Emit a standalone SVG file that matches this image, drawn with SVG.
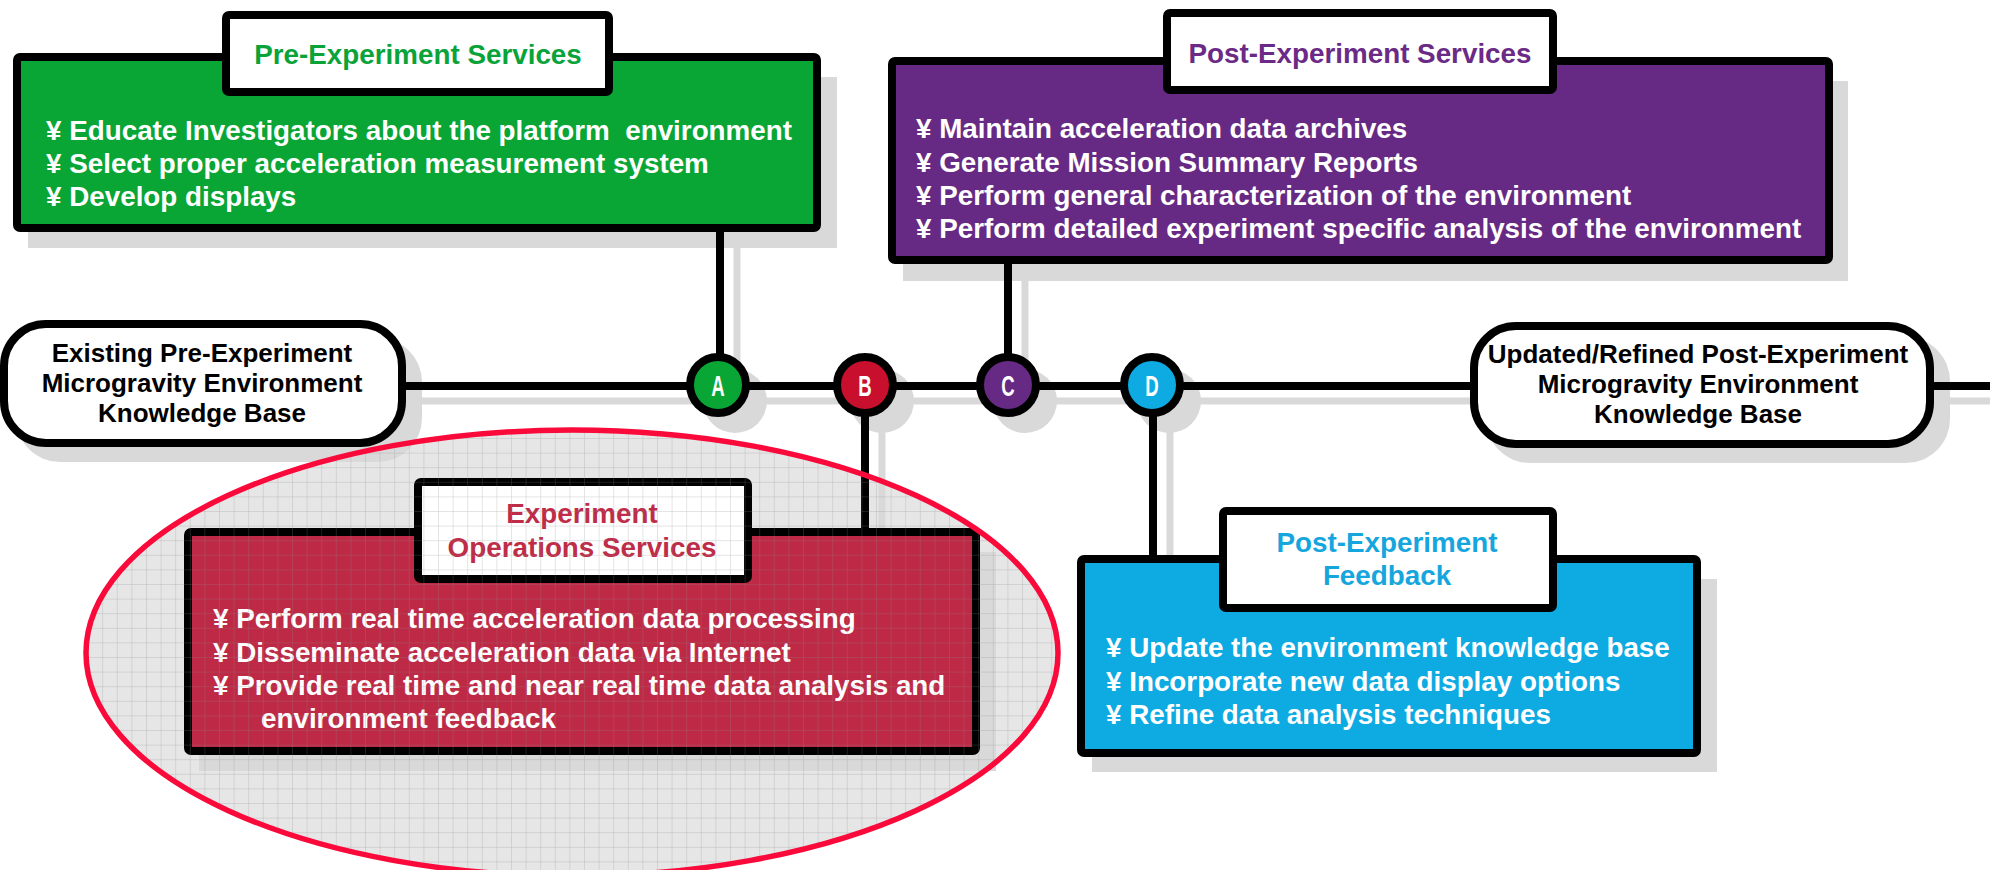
<svg xmlns="http://www.w3.org/2000/svg" width="1990" height="870" viewBox="0 0 1990 870">
  <style>
    text { font-family: "Liberation Sans", Arial, sans-serif; font-weight: bold; }
    .frame { stroke: #000; stroke-width: 8; stroke-linejoin: round; }
    .title { fill: #fff; stroke: #000; stroke-width: 8; stroke-linejoin: round; }
    .shadow { fill: #d9d9d9; }
    .sline { stroke: #d9d9d9; stroke-width: 7; fill: none; }
    .wire { stroke: #000; stroke-width: 8; fill: none; }
    .knode { fill: #fff; stroke: #000; stroke-width: 8; }
    .klabel { font-size: 26px; fill: #000; text-anchor: middle; }
    .head { font-size: 27.8px; text-anchor: middle; }
    .item { font-size: 27.8px; fill: #fff; white-space: pre; }
    .dot { stroke: #000; stroke-width: 8; }
    .letter { font-size: 30px; fill: #fff; text-anchor: middle; }
  </style>
  <defs>
    <pattern id="grid" width="14.6" height="14.6" patternUnits="userSpaceOnUse">
      <path d="M 14.6 0 L 0 0 0 14.6" fill="none" stroke="#8a8a8a" stroke-opacity="0.45" stroke-width="1"/>
    </pattern>
    <clipPath id="focus">
      <ellipse cx="572" cy="653" rx="486" ry="223"/>
    </clipPath>
  </defs>

  <rect width="1990" height="870" fill="#fff"/>

  <!-- highlighted area background -->
  <ellipse cx="572" cy="653" rx="486" ry="223" fill="#e6e6e6"/>

  <!-- drop shadows -->
  <g id="shadows">
    <rect class="shadow" x="28" y="77" width="809" height="171"/>
    <rect class="shadow" x="903" y="81" width="945" height="200"/>
    <rect class="shadow" x="199" y="552" width="797" height="219"/>
    <rect class="shadow" x="1092" y="579" width="625" height="193"/>
    <rect class="shadow" x="16" y="338" width="406" height="124" rx="44"/>
    <rect class="shadow" x="1486" y="337" width="464" height="126" rx="44"/>
    <path class="sline" d="M 422 401 H 1486 M 1950 401 H 1990 M 737 248 V 370 M 882 430 V 552 M 1025 281 V 370 M 1170 430 V 579"/>
    <circle class="shadow" cx="735" cy="401" r="32"/>
    <circle class="shadow" cx="882" cy="401" r="32"/>
    <circle class="shadow" cx="1025" cy="401" r="32"/>
    <circle class="shadow" cx="1169" cy="401" r="32"/>
  </g>

  <!-- connectors -->
  <g id="connectors">
    <path class="wire" d="M 406 386 H 1470"/>
    <path class="wire" d="M 1934 386 H 1990"/>
    <path class="wire" d="M 720 230 V 360"/>
    <path class="wire" d="M 865 410 V 532"/>
    <path class="wire" d="M 1008 262 V 360"/>
    <path class="wire" d="M 1153 410 V 559"/>
  </g>

  <!-- knowledge base nodes -->
  <g id="kb-existing">
    <rect class="knode" x="4" y="324" width="398" height="119" rx="42"/>
    <text class="klabel" x="202" y="362">Existing Pre-Experiment</text>
    <text class="klabel" x="202" y="392">Microgravity Environment</text>
    <text class="klabel" x="202" y="422">Knowledge Base</text>
  </g>
  <g id="kb-updated">
    <rect class="knode" x="1474" y="326" width="456" height="118" rx="42"/>
    <text class="klabel" x="1698" y="363">Updated/Refined Post-Experiment</text>
    <text class="klabel" x="1698" y="393">Microgravity Environment</text>
    <text class="klabel" x="1698" y="423">Knowledge Base</text>
  </g>

  <!-- milestone markers -->
  <g id="marker-a">
    <circle class="dot" cx="718" cy="385" r="28" fill="#09a535"/>
    <text class="letter" transform="translate(718 396) scale(0.62 1)">A</text>
  </g>
  <g id="marker-b">
    <circle class="dot" cx="865" cy="385" r="28" fill="#c8102e"/>
    <text class="letter" transform="translate(865 396) scale(0.62 1)">B</text>
  </g>
  <g id="marker-c">
    <circle class="dot" cx="1008" cy="385" r="28" fill="#672a84"/>
    <text class="letter" transform="translate(1008 396) scale(0.62 1)">C</text>
  </g>
  <g id="marker-d">
    <circle class="dot" cx="1152" cy="385" r="28" fill="#0eaae2"/>
    <text class="letter" transform="translate(1152 396) scale(0.62 1)">D</text>
  </g>

  <!-- service boxes -->
  <g id="pre-experiment">
    <rect class="frame" x="17" y="57" width="800" height="171" rx="3" fill="#09a535"/>
    <rect class="title" x="226" y="15" width="383" height="77" rx="3"/>
    <text class="head" x="418" y="64" fill="#0aa33a">Pre-Experiment Services</text>
    <text class="item" x="46" y="140" xml:space="preserve">¥ Educate Investigators about the platform  environment</text>
    <text class="item" x="46" y="173">¥ Select proper acceleration measurement system</text>
    <text class="item" x="46" y="206">¥ Develop displays</text>
  </g>

  <g id="post-experiment">
    <rect class="frame" x="892" y="61" width="937" height="199" rx="3" fill="#672a84"/>
    <rect class="title" x="1167" y="13" width="386" height="77" rx="3"/>
    <text class="head" x="1360" y="63" fill="#6a2a86">Post-Experiment Services</text>
    <text class="item" x="916" y="138">¥ Maintain acceleration data archives</text>
    <text class="item" x="916" y="172">¥ Generate Mission Summary Reports</text>
    <text class="item" x="916" y="205">¥ Perform general characterization of the environment</text>
    <text class="item" x="916" y="238">¥ Perform detailed experiment specific analysis of the environment</text>
  </g>

  <g id="operations">
    <rect class="frame" x="188" y="532" width="788" height="219" rx="3" fill="#be2a46" stroke="#1e1e1e"/>
    <rect class="title" x="418" y="482" width="330" height="97" rx="3" fill="#e8e8e8" stroke="#1e1e1e"/>
    <text class="head" x="582" y="523" fill="#bf2c48">Experiment</text>
    <text class="head" x="582" y="557" fill="#bf2c48">Operations Services</text>
    <text class="item" x="213" y="628" fill="#ececec">¥ Perform real time acceleration data processing</text>
    <text class="item" x="213" y="662" fill="#ececec">¥ Disseminate acceleration data via Internet</text>
    <text class="item" x="213" y="695" fill="#ececec">¥ Provide real time and near real time data analysis and</text>
    <text class="item" x="261" y="728" fill="#ececec">environment feedback</text>
  </g>

  <g id="feedback">
    <rect class="frame" x="1081" y="559" width="616" height="194" rx="3" fill="#0eaae2"/>
    <rect class="title" x="1223" y="511" width="330" height="97" rx="3"/>
    <text class="head" x="1387" y="552" fill="#16a6de">Post-Experiment</text>
    <text class="head" x="1387" y="585" fill="#16a6de">Feedback</text>
    <text class="item" x="1106" y="657">¥ Update the environment knowledge base</text>
    <text class="item" x="1106" y="691">¥ Incorporate new data display options</text>
    <text class="item" x="1106" y="724">¥ Refine data analysis techniques</text>
  </g>

  <!-- emphasis ring with grid overlay -->
  <g id="highlight">
    <rect x="80" y="425" width="985" height="450" fill="url(#grid)" clip-path="url(#focus)"/>
    <ellipse cx="572" cy="653" rx="486" ry="223" fill="none" stroke="#fa0a3a" stroke-width="5.5"/>
  </g>
</svg>
